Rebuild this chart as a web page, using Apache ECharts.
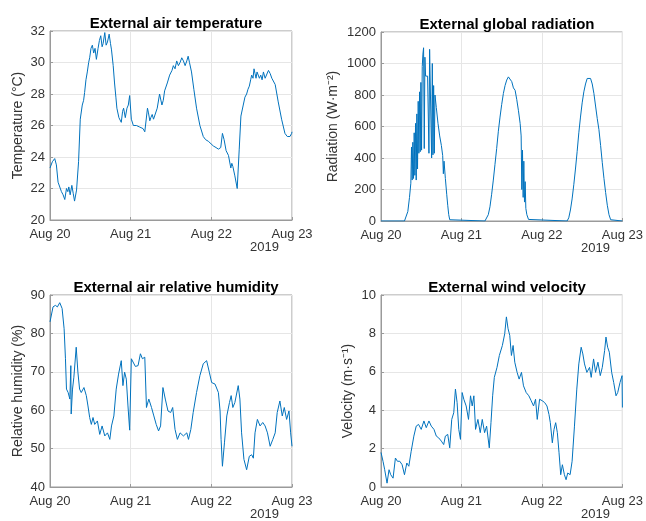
<!DOCTYPE html>
<html>
<head>
<meta charset="utf-8">
<script src="https://cdn.jsdelivr.net/npm/echarts@6/dist/echarts.min.js"></script>
<style>
  html, body { margin: 0; padding: 0; background: #fff; }
  #chart { width: 646px; height: 521px; }
</style>
</head>
<body>
<div id="chart"></div>
<script>
// x positions are hours since Aug 20 00:00
const dayLabels = ['Aug 20', 'Aug 21', 'Aug 22', 'Aug 23']

const tempHours = [0, 0.7, 1.4, 1.9, 2.4, 2.9, 3.4, 3.9, 4.4, 4.9, 5.3, 5.6, 6.0, 6.5, 6.9, 7.3, 7.9, 8.5, 9.0, 9.6, 10.0, 10.3, 10.7, 11.1, 11.5, 11.8, 12.2, 12.6, 13.0, 13.4, 13.8, 14.3, 14.7, 15.1, 15.5, 15.8, 16.3, 16.7, 17.1, 17.6, 18.0, 18.3, 18.8, 19.2, 19.6, 19.9, 20.5, 21.2, 21.6, 21.9, 22.4, 22.9, 23.3, 23.7, 24.2, 24.8, 25.3, 25.7, 26.2, 26.7, 27.2, 27.7, 28.2, 29.0, 29.3, 29.7, 30.0, 30.4, 30.8, 31.2, 31.9, 32.6, 33.0, 33.3, 33.7, 34.1, 34.9, 35.6, 36.3, 36.7, 37.2, 37.7, 38.2, 38.7, 39.2, 39.7, 40.2, 40.7, 41.1, 41.5, 42.1, 42.8, 43.6, 44.6, 45.6, 46.3, 47.1, 48.6, 49.4, 50.1, 50.8, 51.3, 51.8, 52.4, 53.1, 53.8, 54.1, 54.4, 55.0, 55.7, 56.3, 56.8, 57.5, 58.0, 58.5, 58.9, 59.3, 59.7, 60.0, 60.4, 60.7, 61.0, 61.3, 61.6, 62.0, 62.3, 62.7, 63.1, 63.5, 64.0, 64.5, 65.0, 65.5, 66.0, 66.3, 67.0, 67.9, 68.9, 69.9, 70.6, 71.0, 71.4, 71.9, 72]
const tempValues = [23.3, 23.7, 23.9, 23.5, 22.4, 22.5, 21.8, 21.6, 21.3, 22.0, 21.8, 22.1, 21.6, 22.2, 21.7, 21.2, 21.9, 23.7, 26.4, 27.3, 27.6, 28.1, 28.9, 29.4, 30.0, 30.3, 30.9, 31.1, 30.6, 30.9, 30.2, 30.9, 31.4, 31.7, 31.0, 31.2, 31.9, 31.1, 31.3, 31.8, 31.2, 30.8, 29.8, 28.7, 27.8, 27.1, 26.5, 26.2, 26.9, 27.1, 26.5, 27.1, 27.3, 27.9, 26.4, 26.0, 26.1, 26.0, 26.1, 25.9, 26.0, 25.8, 25.6, 27.1, 26.8, 26.3, 26.5, 26.7, 26.4, 26.5, 27.1, 28.0, 28.1, 27.3, 27.6, 28.2, 28.7, 29.2, 29.5, 29.8, 29.6, 30.1, 29.8, 30.0, 30.3, 30.1, 29.8, 30.1, 30.4, 30.0, 29.4, 28.3, 27.1, 26.0, 25.3, 25.1, 25.0, 24.7, 24.6, 24.5, 24.6, 25.5, 25.1, 24.4, 24.1, 23.3, 23.6, 23.4, 22.8, 22.0, 24.5, 26.6, 27.3, 27.8, 28.0, 28.3, 28.5, 28.9, 29.2, 29.0, 29.6, 29.3, 29.0, 29.4, 29.5, 29.0, 29.2, 28.9, 29.4, 29.0, 29.1, 29.5, 29.3, 29.0, 29.0, 28.6, 27.5, 26.4, 25.5, 25.3, 25.4, 25.3, 25.5, 25.6]

const radHours = [0, 7.0, 7.5, 8.0, 8.5, 8.9, 9.1, 9.3, 9.5, 9.7, 9.9, 10.1, 10.3, 10.5, 10.7, 10.9, 11.1, 11.3, 11.5, 11.7, 11.9, 12.1, 12.3, 12.5, 12.7, 12.9, 13.1, 13.3, 13.6, 13.9, 14.1, 14.3, 14.5, 14.7, 14.9, 15.1, 15.3, 15.5, 15.7, 15.9, 16.1, 16.5, 17.0, 17.5, 18.0, 18.4, 18.6, 18.8, 19.2, 19.6, 19.9, 20.2, 20.5, 20.8, 31.0, 31.5, 32.0, 32.5, 33.0, 33.5, 34.0, 34.5, 35.0, 35.5, 36.0, 36.5, 37.0, 37.5, 38.0, 38.5, 39.0, 39.5, 40.0, 40.5, 41.0, 41.5, 41.8, 42.0, 42.2, 42.4, 42.6, 42.8, 43.0, 43.2, 43.5, 44.0, 44.5, 55.5, 56.0, 56.5, 57.0, 57.5, 58.0, 58.5, 59.0, 59.5, 60.0, 60.5, 61.0, 61.5, 62.0, 62.5, 63.0, 63.5, 64.0, 64.5, 65.0, 65.5, 66.0, 66.5, 67.0, 67.5, 68.0, 68.5, 69.0, 72]
const radValues = [0, 0, 5, 60, 150, 240, 470, 260, 500, 270, 560, 290, 620, 260, 680, 330, 760, 430, 820, 440, 880, 450, 980, 1060, 1100, 460, 1040, 920, 930, 920, 930, 430, 1090, 1100, 1080, 400, 1000, 420, 860, 430, 800, 720, 620, 540, 480, 415, 300, 380, 270, 170, 100, 40, 8, 0, 0, 10, 40, 90, 170, 260, 360, 460, 570, 660, 740, 810, 860, 895, 915, 910, 885, 845, 830, 770, 700, 620, 540, 200, 450, 150, 380, 120, 250, 80, 40, 10, 0, 0, 20, 70, 140, 230, 330, 440, 560, 660, 750, 820, 870, 905, 915, 905, 870, 810, 730, 650, 580, 480, 370, 270, 180, 100, 40, 8, 0, 0]

const humHours = [0, 0.2, 0.9, 1.6, 2.2, 2.9, 3.6, 4.2, 4.6, 4.9, 5.4, 5.9, 6.2, 6.3, 6.7, 7.1, 7.8, 8.3, 8.8, 9.3, 10.1, 10.8, 11.3, 11.8, 12.3, 12.8, 13.3, 14.1, 14.8, 15.5, 16.3, 17.1, 17.8, 18.3, 19.0, 19.7, 20.4, 21.2, 21.7, 22.2, 22.7, 23.2, 23.7, 24.2, 24.7, 25.4, 26.2, 26.9, 27.5, 28.2, 28.7, 29.4, 30.2, 30.9, 31.6, 32.3, 32.9, 33.6, 34.3, 35.1, 35.9, 36.5, 37.2, 37.9, 38.7, 39.7, 40.7, 41.2, 41.9, 42.6, 43.6, 44.6, 45.6, 46.6, 47.4, 48.1, 49.1, 50.1, 50.6, 50.9, 51.3, 51.9, 52.6, 53.4, 53.9, 54.4, 55.0, 56.0, 56.5, 57.0, 57.7, 58.5, 59.3, 60.0, 60.5, 61.0, 61.7, 62.5, 63.3, 64.0, 64.7, 65.5, 66.3, 67.0, 67.6, 68.4, 69.1, 69.7, 70.4, 71.1, 71.6, 72]
const humValues = [83.0, 83.4, 86.9, 87.3, 86.9, 88.0, 86.5, 81.2, 73.4, 65.5, 64.6, 62.9, 71.6, 59.0, 65.5, 68.6, 76.4, 69.9, 65.5, 64.6, 65.9, 63.8, 61.1, 58.1, 56.3, 58.1, 56.3, 57.2, 53.7, 55.9, 53.3, 54.1, 52.4, 55.9, 58.5, 65.5, 69.4, 72.9, 66.4, 69.9, 68.1, 61.1, 54.8, 73.4, 73.8, 71.4, 71.6, 74.7, 73.4, 73.8, 60.7, 62.9, 60.7, 58.5, 56.3, 54.6, 55.9, 65.9, 62.9, 59.8, 59.4, 60.7, 55.0, 52.4, 54.1, 53.3, 54.1, 52.4, 55.0, 59.4, 64.6, 69.0, 72.1, 72.9, 69.9, 67.2, 66.8, 64.6, 59.8, 52.4, 45.4, 51.5, 58.5, 62.0, 63.8, 60.7, 62.0, 66.4, 62.9, 54.1, 47.2, 44.5, 48.0, 48.4, 47.5, 54.1, 57.6, 55.9, 56.8, 55.9, 54.1, 50.6, 52.4, 54.1, 59.4, 62.4, 58.5, 60.7, 57.6, 59.8, 54.1, 50.6]

const windHours = [0, 0.6, 1.1, 1.8, 2.4, 2.9, 3.6, 4.3, 4.9, 5.6, 6.3, 7.0, 7.7, 8.3, 9.0, 9.8, 10.5, 11.2, 12.0, 12.8, 13.5, 14.3, 15.0, 15.8, 16.5, 17.2, 18.0, 18.7, 19.2, 19.9, 20.5, 21.1, 21.7, 22.2, 22.7, 23.2, 23.7, 24.2, 24.7, 25.4, 26.1, 26.7, 27.2, 27.7, 28.2, 28.9, 29.6, 30.2, 30.9, 31.5, 32.3, 32.8, 33.3, 33.8, 34.6, 35.3, 36.2, 36.9, 37.4, 37.9, 38.4, 38.9, 39.4, 39.9, 40.6, 41.2, 41.9, 42.5, 43.3, 44.1, 44.8, 45.5, 46.1, 46.6, 47.3, 48.1, 48.8, 49.5, 50.1, 50.5, 51.1, 51.6, 52.1, 52.6, 53.1, 53.6, 54.1, 54.7, 55.2, 55.7, 56.4, 57.0, 57.7, 58.4, 59.0, 59.7, 60.2, 60.7, 61.4, 62.2, 62.7, 63.4, 64.0, 64.7, 65.4, 66.0, 66.7, 67.1, 67.6, 68.1, 68.8, 69.4, 70.1, 70.6, 71.3, 71.9, 72]
const windValues = [1.8, 1.34, 0.9, 0.2, 0.9, 0.64, 0.46, 1.51, 1.34, 1.34, 1.16, 0.64, 1.25, 1.08, 1.86, 2.65, 3.17, 3.26, 3.0, 3.44, 3.09, 3.44, 3.17, 3.0, 2.65, 2.56, 2.39, 2.21, 2.65, 2.74, 2.04, 3.52, 3.87, 5.1, 4.4, 3.0, 2.48, 4.92, 4.57, 4.22, 3.52, 4.75, 4.22, 4.75, 3.0, 3.52, 2.83, 3.52, 2.83, 3.17, 2.04, 3.35, 4.75, 5.71, 6.23, 6.85, 7.37, 7.98, 8.86, 8.24, 7.9, 6.85, 7.37, 6.5, 5.97, 5.62, 5.97, 5.27, 4.92, 4.75, 4.49, 4.22, 4.57, 3.52, 4.57, 4.49, 4.4, 4.22, 3.78, 3.35, 2.3, 3.0, 3.35, 2.83, 1.78, 0.64, 1.16, 0.64, 0.38, 0.73, 0.64, 1.34, 3.17, 5.1, 6.41, 7.28, 6.93, 6.41, 5.97, 6.23, 5.71, 6.67, 5.97, 6.5, 5.8, 6.23, 7.11, 7.81, 7.28, 7.02, 5.97, 5.45, 4.75, 4.92, 5.45, 5.8, 4.14]

const panels = [
  { title: 'External air temperature', yName: 'Temperature (°C)', hours: tempHours, values: tempValues, min: 20, max: 32, step: 2, left: 50, top: 31, height: 189, nameGap: 25 },
  { title: 'External global radiation', yName: 'Radiation (W·m⁻²)', hours: radHours, values: radValues, min: 0, max: 1200, step: 200, left: 381, top: 32, height: 189, nameGap: 41 },
  { title: 'External air relative humidity', yName: 'Relative humidity (%)', hours: humHours, values: humValues, min: 40, max: 90, step: 10, left: 50, top: 295, height: 192, nameGap: 25 },
  { title: 'External wind velocity', yName: 'Velocity (m·s⁻¹)', hours: windHours, values: windValues, min: 0, max: 10, step: 2, left: 381, top: 295, height: 192, nameGap: 26 },
]

const FONT = 'Liberation Sans, Arial, sans-serif'
const PLOT_W = 242
const BORDER = '#9a9a9a'

const chart = echarts.init(document.getElementById('chart'))

const option = {
  animation: false,
  title: panels.map((p) => ({
    text: p.title,
    left: p.left + PLOT_W / 2,
    top: p.top - 20,
    textAlign: 'center',
    textStyle: { fontFamily: FONT, fontSize: 15, fontWeight: 'bold', color: '#000' },
  })),
  grid: panels.map((p) => ({
    left: p.left,
    top: p.top,
    width: PLOT_W,
    height: p.height,
    show: true,
    borderColor: BORDER,
    borderWidth: 1,
    backgroundColor: 'transparent',
  })),
  xAxis: panels.map((p, i) => ({
    type: 'value',
    gridIndex: i,
    min: 0,
    max: 72,
    interval: 24,
    axisLine: { show: true, lineStyle: { color: BORDER } },
    axisTick: { show: true, inside: true, length: 3, lineStyle: { color: BORDER } },
    splitLine: { show: true, lineStyle: { color: '#e6e6e6' } },
    axisLabel: {
      fontFamily: FONT,
      fontSize: 13,
      color: '#333',
      margin: 8,
      formatter: (v) => dayLabels[Math.round(v / 24)],
    },
  })),
  yAxis: panels.map((p, i) => ({
    type: 'value',
    gridIndex: i,
    min: p.min,
    max: p.max,
    interval: p.step,
    name: p.yName,
    nameLocation: 'middle',
    nameGap: p.nameGap,
    nameTextStyle: { fontFamily: FONT, fontSize: 14, color: '#333' },
    axisLine: { show: true, lineStyle: { color: BORDER } },
    axisTick: { show: true, inside: true, length: 3, lineStyle: { color: BORDER } },
    splitLine: { show: true, lineStyle: { color: '#e6e6e6' } },
    axisLabel: { fontFamily: FONT, fontSize: 13, color: '#333', margin: 5, formatter: (v) => String(v) },
  })),
  series: panels.map((p, i) => ({
    type: 'line',
    xAxisIndex: i,
    yAxisIndex: i,
    showSymbol: false,
    lineStyle: { color: '#0072BD', width: 1 },
    data: p.hours.map((h, k) => [h, p.values[k]]),
  })),
  graphic: panels.map((p) => ({
    type: 'text',
    left: p.left + PLOT_W - 42,
    top: p.top + p.height + 21,
    style: { text: '2019', font: '13px ' + FONT, fill: '#333' },
  })),
}

chart.setOption(option)
</script>
</body>
</html>
